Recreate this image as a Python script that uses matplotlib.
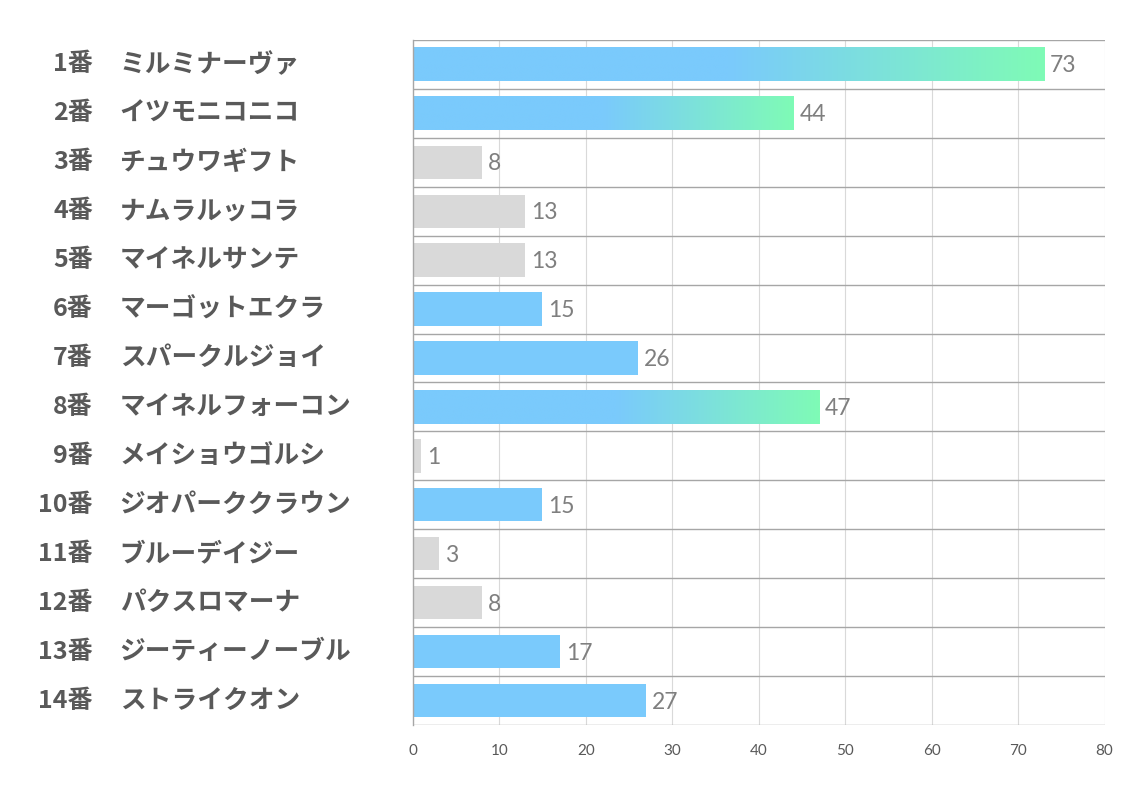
import numpy as np
import matplotlib.pyplot as plt
from matplotlib.colors import LinearSegmentedColormap

numbers = ['1番', '2番', '3番', '4番', '5番', '6番', '7番',
           '8番', '9番', '10番', '11番', '12番', '13番', '14番']
names = ['ミルミナーヴァ', 'イツモニコニコ', 'チュウワギフト', 'ナムラルッコラ',
         'マイネルサンテ', 'マーゴットエクラ', 'スパークルジョイ', 'マイネルフォーコン',
         'メイショウゴルシ', 'ジオパーククラウン', 'ブルーデイジー', 'パクスロマーナ',
         'ジーティーノーブル', 'ストライクオン']
values = [73, 44, 8, 13, 13, 15, 26, 47, 1, 15, 3, 8, 17, 27]
xticks = [0, 10, 20, 30, 40, 50, 60, 70, 80]

BLUE = '#7ACAFC'
GREEN = '#7FFBB6'
GREY = '#D9D9D9'
grad = LinearSegmentedColormap.from_list('g', [BLUE, BLUE, GREEN])

plt.rcParams['font.family'] = ['Noto Sans CJK JP', 'DejaVu Sans']

fig = plt.figure(figsize=(11.34, 7.93), dpi=100)
ax = fig.add_axes([0.364, 0.0857, 0.610, 0.864])

n = len(values)
ax.set_xlim(0, 80)
ax.set_ylim(n, 0)
bh = 0.68

for i, v in enumerate(values):
    yc = i + 0.5
    if v >= 40:
        img = np.linspace(0, 1, 256).reshape(1, -1)
        ax.imshow(img, cmap=grad, aspect='auto',
                  extent=(0, v, yc + bh / 2, yc - bh / 2), zorder=2)
    else:
        ax.barh(yc, v, height=bh, color=BLUE if v >= 15 else GREY, zorder=2)
    ax.text(v + 0.7, yc + 0.03, str(v), va='center', ha='left', fontsize=16.5,
            color='#7F7F7F', family=['Lato', 'DejaVu Sans'])
    # row labels
    ax.text(-37.0, yc, numbers[i], va='center', ha='right', fontsize=18,
            fontweight='bold', color='#595959')
    ax.text(-33.9, yc, names[i], va='center', ha='left', fontsize=18.5,
            fontweight='bold', color='#595959')

ax.set_ylim(n, 0)
ax.set_xlim(0, 80)

# grid lines
for x in xticks[1:]:
    ax.axvline(x, color='#D9D9D9', lw=0.8, zorder=1)
for y in range(n + 1):
    ax.axhline(y, color='#A6A6A6', lw=1.0, zorder=1)

for s in ['top', 'right', 'bottom']:
    ax.spines[s].set_visible(False)
ax.spines['left'].set_color('#A6A6A6')
ax.spines['left'].set_linewidth(1.0)

ax.set_yticks([])
ax.set_xticks(xticks)
ax.tick_params(axis='x', length=0, pad=14, labelsize=11, labelcolor='#595959')
for lab in ax.get_xticklabels():
    lab.set_family(['Lato', 'DejaVu Sans'])

fig.savefig('out.png', dpi=100)
